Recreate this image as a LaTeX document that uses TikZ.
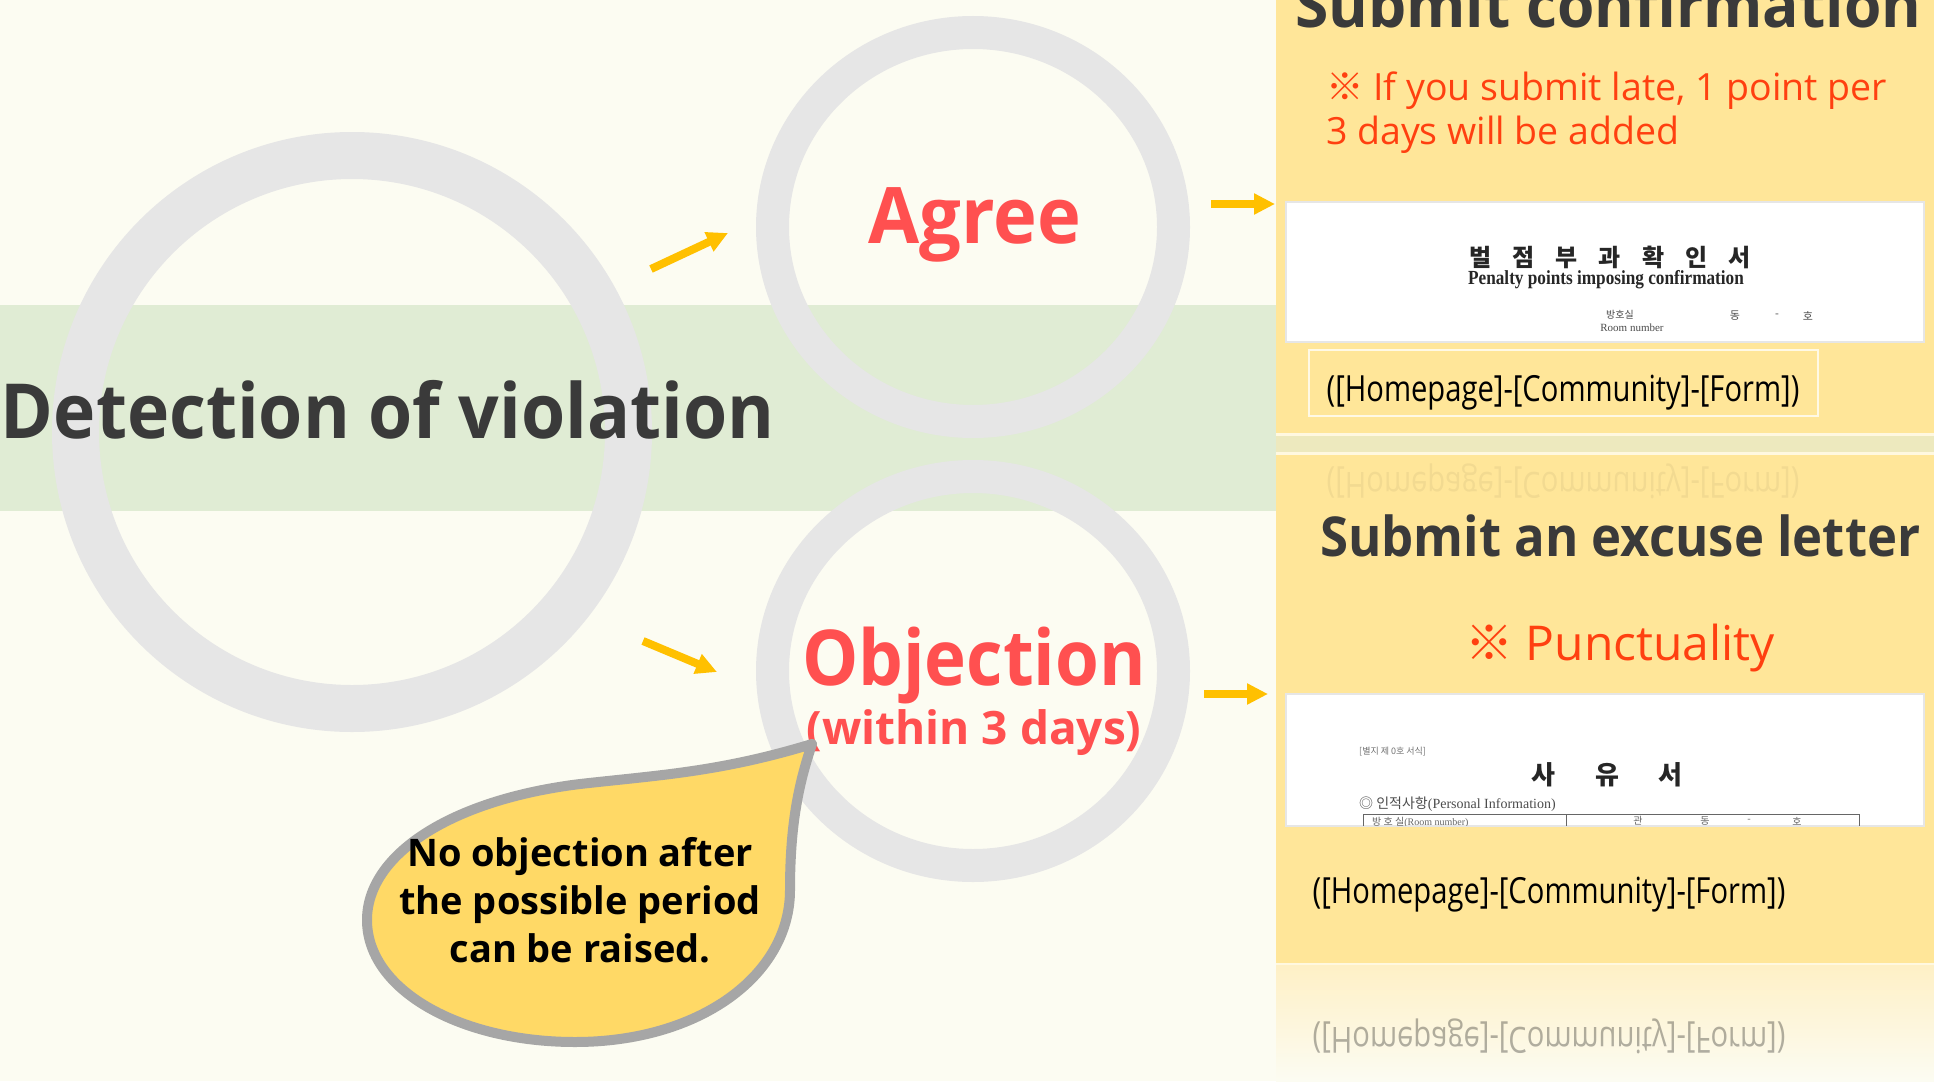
\documentclass[tikz,border=0pt]{standalone}
\usepackage{fontspec}
\usepackage{graphicx}
\setmainfont{Open Sans}
\newfontfamily\kr{Noto Sans CJK KR}
\newfontfamily\formserif{Liberation Serif}
\usetikzlibrary{arrows.meta,shapes.geometric}
\definecolor{bg}{HTML}{FCFCF2}
\definecolor{band}{HTML}{E0ECD4}
\definecolor{ringgray}{HTML}{E6E6E6}
\definecolor{redtxt}{HTML}{FF5050}
\definecolor{notetxt}{HTML}{FF4010}
\definecolor{arrorange}{HTML}{FFC000}
\definecolor{panel}{HTML}{FFE699}
\definecolor{darktxt}{HTML}{3A3A3A}
\definecolor{bubblefill}{HTML}{FFD966}
\definecolor{bubbleline}{HTML}{A6A6A6}
\definecolor{sepcol}{HTML}{EDE9BE}
\definecolor{fadecol}{HTML}{FEF0C6}
\newcommand{\hptext}{([Homepage]-[Community]-[Form])}
\begin{document}
\begin{tikzpicture}[x=1pt,y=-1pt,
  ringnode/.style={draw=ringgray, inner sep=0, fill=none},
  arr/.style={draw=arrorange, line width=8, -{Triangle[length=21pt,width=20pt]}},
  txt/.style={inner sep=0, outer sep=0},
  formbox/.style={fill=white, draw=ringgray, line width=2},
  formtxt/.style={inner sep=0, text=black!85}]
\useasboundingbox (0,0) rectangle (1934,1081);
\clip (0,0) rectangle (1934,1081);
% background
\fill[bg] (0,0) rectangle (1934,1081);
\fill[band] (0,305) rectangle (1276,511);
% right panels
\fill[panel] (1276,0) rectangle (1934,434);
\fill[sepcol] (1276,434) rectangle (1934,454);
\draw[white!70!panel, line width=2.5] (1276,434.5) -- (1934,434.5);
\draw[white!70!panel, line width=2.5] (1276,453.5) -- (1934,453.5);
\fill[panel] (1276,455) rectangle (1934,963);
\draw[white!70!panel, line width=2.5] (1276,964) -- (1934,964);
\shade[top color=fadecol, bottom color=bg] (1276,965.5) rectangle (1934,1081);
% circles
\node[ringnode, circle, line width=47, minimum size=553] (detC) at (352,432) {};
\node[ringnode, ellipse, line width=33, minimum width=401, minimum height=389] (agrC) at (973,227) {};
\node[ringnode, ellipse, line width=33, minimum width=401, minimum height=389] (objC) at (973,671) {};
% main texts
\node[txt, anchor=base west, text=darktxt, font=\fontsize{76}{90}\selectfont\bfseries] (det) at (1,438) {\scalebox{0.94}[1]{Detection of violation}};
\node[txt, anchor=base, text=redtxt, font=\fontsize{78}{90}\selectfont\bfseries] (agree) at (975,243) {\scalebox{0.95}[1]{Agree}};
\node[txt, anchor=base, text=redtxt, font=\fontsize{77}{90}\selectfont\bfseries] (obj) at (974,685) {\scalebox{0.92}[1]{Objection}};
\node[txt, anchor=base, text=redtxt, font=\fontsize{46}{55}\selectfont\bfseries] (within) at (974,744) {(within 3 days)};
% arrows
\coordinate (a1s) at (651,269); \coordinate (a1e) at (728,233);
\coordinate (a2s) at (643,641); \coordinate (a2e) at (717,672);
\coordinate (a3s) at (1211,204); \coordinate (a3e) at (1275,204);
\coordinate (a4s) at (1204,694); \coordinate (a4e) at (1268,694);
\draw[arr] (a1s) -- (a1e);
\draw[arr] (a2s) -- (a2e);
\draw[arr] (a3s) -- (a3e);
\draw[arr] (a4s) -- (a4e);
% panel 1
\node[txt, anchor=base west, text=darktxt, font=\fontsize{62}{70}\selectfont\bfseries] (p1title) at (1295,28) {\scalebox{0.975}[1]{Submit confirmation}};
\node[txt, anchor=base west, text=notetxt, font=\fontsize{37.5}{45}\selectfont] (note1) at (1326,100) {{\kr ※}\ If you submit late, 1 point per};
\node[txt, anchor=base west, text=notetxt, font=\fontsize{37.5}{45}\selectfont] (note2) at (1326,144) {3 days will be added};
\draw[formbox] (1286,202) rectangle (1924,342);
\begin{scope}
\clip (1287,203) rectangle (1923,341);
\node[formtxt, font=\fontsize{24}{26}\selectfont\kr\bfseries] (f1kr) at (1610,257) {벌\hspace{21pt}점\hspace{21pt}부\hspace{21pt}과\hspace{21pt}확\hspace{21pt}인\hspace{21pt}서};
\node[formtxt, font=\fontsize{20}{22}\selectfont\formserif\bfseries] (f1en) at (1606,280) {\scalebox{0.86}[1]{Penalty points imposing confirmation}};
\node[formtxt, text=black!70, font=\fontsize{10}{11}\selectfont\kr] (f1room) at (1620,315) {방호실};
\node[formtxt, text=black!70, font=\fontsize{11}{12}\selectfont\formserif] (f1roomen) at (1632,328) {Room number};
\node[formtxt, text=black!70, font=\fontsize{11}{12}\selectfont\kr] (f1dong) at (1735,316) {동};
\node[formtxt, text=black!70, font=\fontsize{11}{12}\selectfont\kr] (f1dash) at (1777,316) {-};
\node[formtxt, text=black!70, font=\fontsize{11}{12}\selectfont\kr] (f1ho) at (1808,316) {호};
\end{scope}
\draw[white!75!panel, line width=2] (1309,350) rectangle (1818,416);
\node[txt, anchor=base, text=black, font=\fontsize{36}{40}\selectfont] (hp1) at (1563,401) {\scalebox{0.81}[1]{\hptext}};
% panel 2
\node[txt, anchor=base, text=black, opacity=0.05, font=\fontsize{36}{40}\selectfont] (hp1r) at (1563,472) {\scalebox{0.81}[-1]{\hptext}};
\node[txt, anchor=base west, text=darktxt, font=\fontsize{55}{62}\selectfont\bfseries] (p2title) at (1320,556) {\scalebox{0.925}[1]{Submit an excuse letter}};
\node[txt, anchor=base, text=notetxt, font=\fontsize{48}{56}\selectfont] (punct) at (1620,660) {{\kr ※}\ Punctuality};
\draw[formbox] (1286,694) rectangle (1924,826);
\begin{scope}
\clip (1287,695) rectangle (1923,825);
\node[formtxt, anchor=west, text=black!55, font=\fontsize{9}{10}\selectfont\kr] (f2tag) at (1359,752) {[별지 제 0호 서식]};
\node[formtxt, font=\fontsize{26}{28}\selectfont\kr\bfseries] (f2kr) at (1607,775) {사\hspace{40pt}유\hspace{40pt}서};
\node[formtxt, anchor=west, text=black!70, font=\fontsize{14}{16}\selectfont] (f2info) at (1359,804) {{\kr ◎ 인적사항}{\formserif(Personal Information)}};
\draw[black!60, line width=1] (1363,840) -- (1363,814) -- (1859,814) -- (1859,840);
\draw[black!60, line width=1] (1566,814) -- (1566,840);
\node[formtxt, anchor=west, text=black!60, font=\fontsize{10}{11}\selectfont] (f2room) at (1372,822) {{\kr 방 호 실}{\formserif(Room number)}};
\node[formtxt, text=black!60, font=\fontsize{10}{11}\selectfont\kr] (f2a) at (1638,821) {관};
\node[formtxt, text=black!60, font=\fontsize{10}{11}\selectfont\kr] (f2b) at (1705,821) {동};
\node[formtxt, text=black!60, font=\fontsize{10}{11}\selectfont\kr] (f2c) at (1749,821) {-};
\node[formtxt, text=black!60, font=\fontsize{10}{11}\selectfont\kr] (f2d) at (1797,821) {호};
\end{scope}
\node[txt, anchor=base, text=black, font=\fontsize{36}{40}\selectfont] (hp2) at (1549,903) {\scalebox{0.81}[1]{\hptext}};
\node[txt, anchor=base, text=black, opacity=0.3, font=\fontsize{36}{40}\selectfont] (hp2r) at (1549,1027) {\scalebox{0.81}[-1]{\hptext}};
% speech bubble
\draw[draw=bubbleline, fill=bubblefill, line width=10, line join=round]
  (812,744) .. controls (720,772) and (660,775) .. (580,784)
  .. controls (450,800) and (367,855) .. (367,920)
  .. controls (367,990) and (460,1042) .. (575,1042)
  .. controls (700,1042) and (790,975) .. (790,890)
  .. controls (790,820) and (800,780) .. (812,744) -- cycle;
\node[txt, align=center, text=black, font=\fontsize{38}{48}\selectfont\bfseries] (bubtxt) at (580,900) {No objection after\\the possible period\\can be raised.};
\end{tikzpicture}
\end{document}
